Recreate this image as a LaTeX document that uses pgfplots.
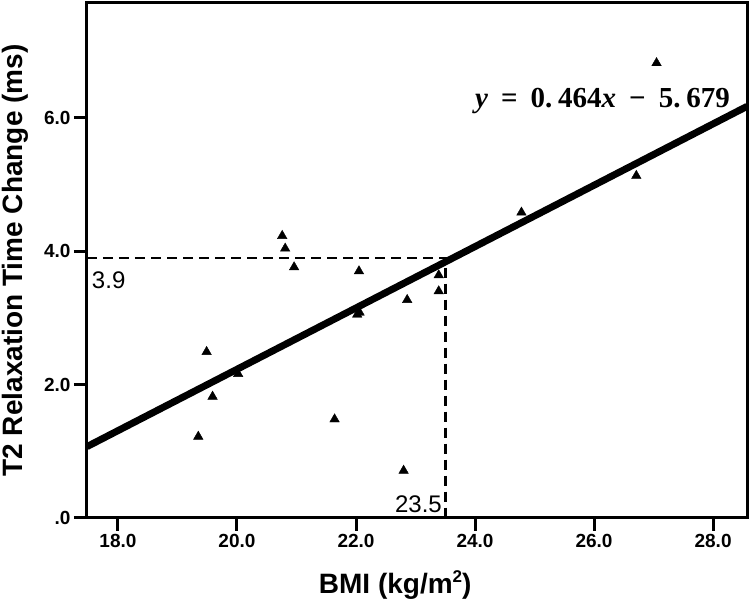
\documentclass[border=0pt]{standalone}
\usepackage{fontspec}
\setmainfont{Liberation Sans}
\newfontfamily\eqfont{Liberation Serif}
\usepackage{pgfplots}
\pgfplotsset{compat=1.18}
\newcommand{\annfont}{\fontsize{24}{26}\selectfont}

\begin{document}
\begin{tikzpicture}
\begin{axis}[
    name=main,
    scale only axis,
    width=660pt, height=515pt,
    xmin=17.48, xmax=28.57,
    ymin=0, ymax=7.72,
    axis line style={line width=3pt},
    tick pos=left,
    tick align=outside,
    major tick length=13pt,
    every tick/.style={black, line width=3pt},
    xtick={18,20,22,24,26,28},
    xticklabels={18.0,20.0,22.0,24.0,26.0,28.0},
    ytick={0,2,4,6},
    yticklabels={.0,2.0,4.0,6.0},
    ticklabel style={font=\bfseries\fontsize{19}{19}\selectfont},
    xlabel={BMI (kg/m\raisebox{0.42em}{\fontsize{17}{17}\selectfont 2})},
    ylabel={T2 Relaxation Time Change (ms)},
    label style={font=\bfseries\fontsize{28}{28}\selectfont},
    xlabel style={at={(axis description cs:0.467,0)}, anchor=north, inner sep=0pt, yshift=-52pt},
    ylabel style={at={(axis description cs:-0.129,0.5)}, anchor=north, inner sep=0pt},
    clip=false,
]
% tick marks (13pt outside the frame)
\pgfplotsset{tk/.style={black, line width=3pt, forget plot}}
\addplot[tk] coordinates {(18,0) (18,-0.195)};
\addplot[tk] coordinates {(20,0) (20,-0.195)};
\addplot[tk] coordinates {(22,0) (22,-0.195)};
\addplot[tk] coordinates {(24,0) (24,-0.195)};
\addplot[tk] coordinates {(26,0) (26,-0.195)};
\addplot[tk] coordinates {(28,0) (28,-0.195)};
\addplot[tk] coordinates {(17.48,0) (17.262,0)};
\addplot[tk] coordinates {(17.48,2) (17.262,2)};
\addplot[tk] coordinates {(17.48,4) (17.262,4)};
\addplot[tk] coordinates {(17.48,6) (17.262,6)};
% reference lines and fit
\addplot[black, line width=2.5pt, dash pattern=on 10pt off 6pt] coordinates {(17.48,3.9) (23.5,3.9) (23.5,0)};
\addplot[black, line width=7pt] coordinates {(17.48,1.07) (28.57,6.17)};
\addplot[only marks, mark=triangle*, mark size=5.5pt, black] coordinates {
    (19.35,1.22) (19.49,2.49) (19.59,1.82) (20.02,2.16)
    (20.76,4.23) (20.81,4.04) (20.96,3.76) (21.64,1.48)
    (22.02,3.05) (22.06,3.08) (22.05,3.70) (22.80,0.71)
    (22.86,3.27) (23.39,3.64) (23.39,3.40) (24.78,4.58)
    (26.71,5.13) (27.05,6.82)
};
\end{axis}
% annotations, offsets in pt from the axis corner (59.5pt per BMI unit, 66.7pt per ms)
\node[anchor=north west, inner sep=0pt] at ([shift={(4.8pt,246.5pt)}]main.south west) {\annfont 3.9};
\node[anchor=south east, inner sep=0pt] at ([shift={(355pt,5pt)}]main.south west) {\annfont 23.5};
\node[anchor=east, inner sep=0pt] at ([shift={(643pt,417pt)}]main.south west)
    {\fontsize{29}{31}\selectfont\eqfont\bfseries\itshape y\hspace{0.45em}\upshape=\hspace{0.45em}0.\hspace{0.2em}464\itshape x\hspace{0.45em}\upshape−\hspace{0.45em}5.\hspace{0.2em}679};
\pgfresetboundingbox
\path[use as bounding box] ([shift={(-87pt,-81pt)}]main.south west) rectangle ([shift={(3pt,3pt)}]main.north east);
\end{tikzpicture}
\end{document}
